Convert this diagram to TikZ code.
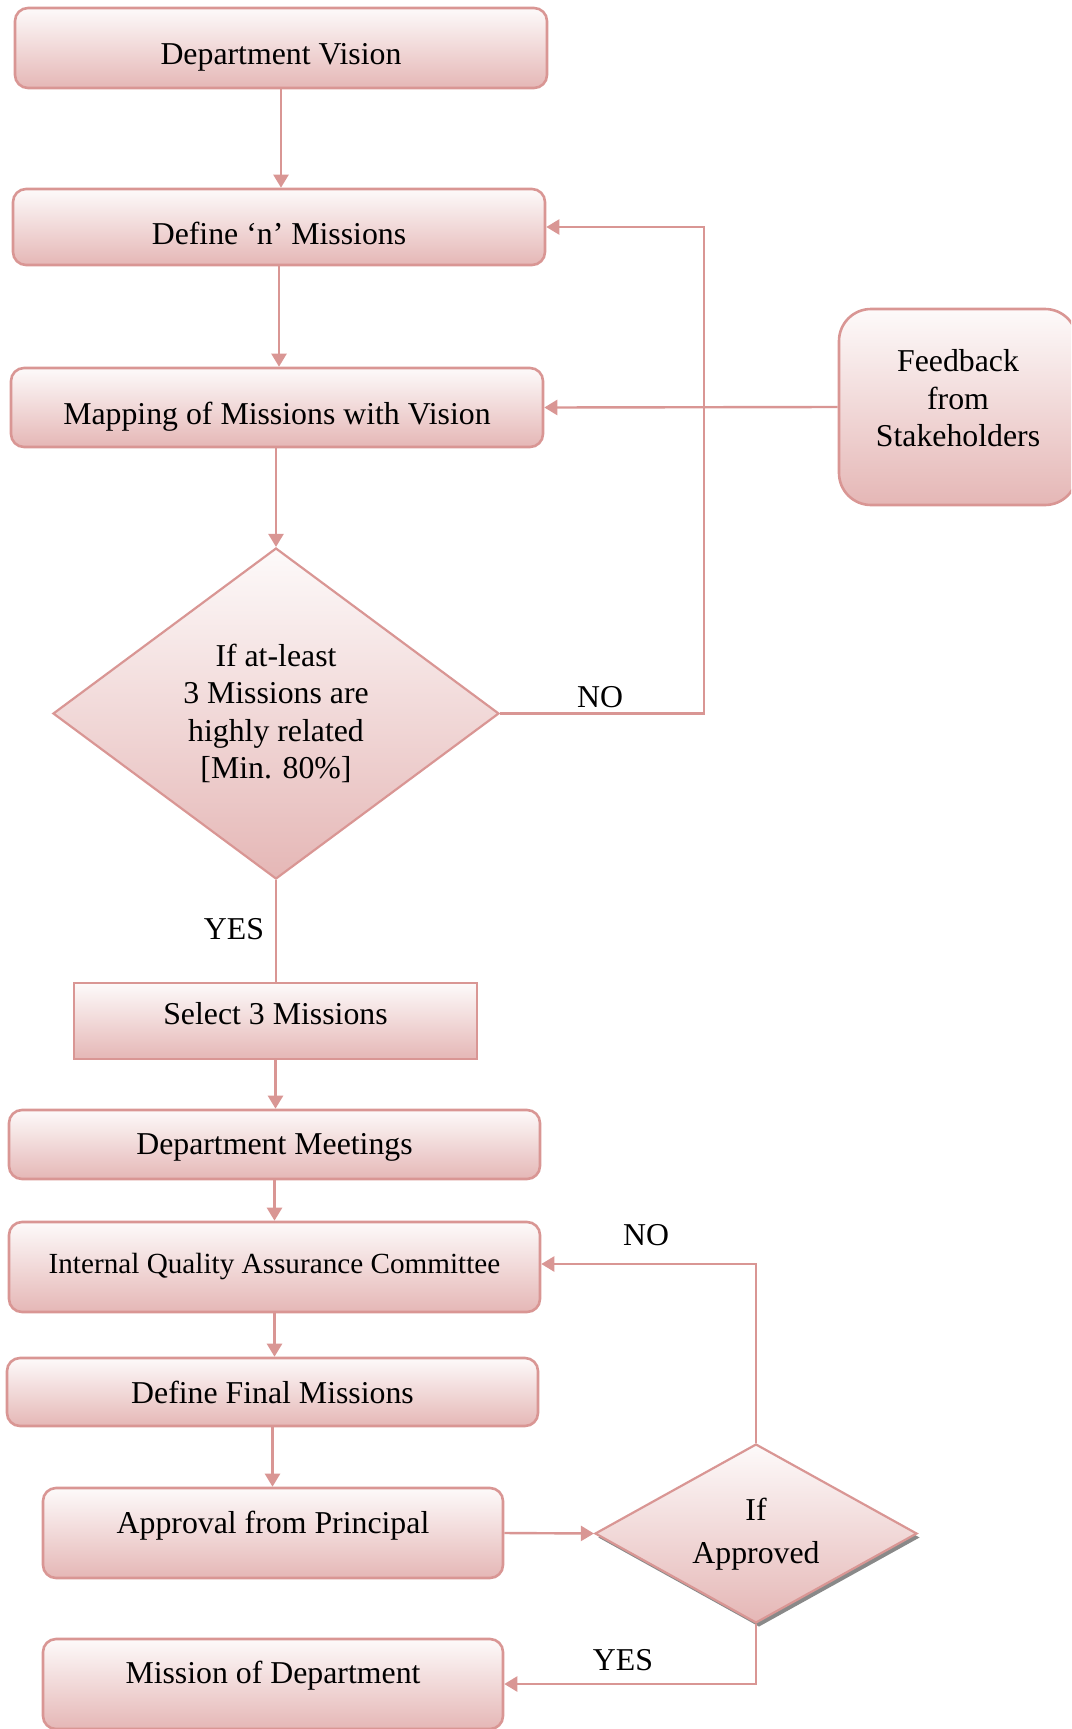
\documentclass[tikz,border=0pt]{standalone}
\usepackage{fontspec}
\setmainfont{Liberation Serif}
\usetikzlibrary{arrows.meta,shapes.geometric,shadows}
\definecolor{bd}{HTML}{D99694}
\definecolor{ftop}{HTML}{FDFAFA}
\definecolor{fbot}{HTML}{E5B7B6}
\newcommand{\shiftup}[2]{\raisebox{#1}[\height][\depth]{#2}}
\begin{document}
\begin{tikzpicture}[x=0.5pt,y=-0.5pt,
  txt/.style={font=\fontsize{15.9}{18.8}\selectfont},
  box/.style={txt, draw=bd, line width=1.3pt, rounded corners=6.5pt, top color=ftop, bottom color=fbot, inner sep=0pt, align=center},
  sqbox/.style={box, rounded corners=0pt},
  dia/.style={txt, diamond, draw=bd, line width=1.1pt, top color=ftop, bottom color=fbot, inner sep=0pt, align=center},
  conn/.style={draw=bd, line width=1.2pt},
  arr/.style={conn, -{Triangle[length=6.5pt,width=7.5pt]}},
  lbl/.style={txt, inner sep=0pt}
]
\path[use as bounding box, clip] (0,0) rectangle (1071,1729);

\node[box, minimum width=266pt, minimum height=40pt] (dv) at (281,48) {\shiftup{-4.5pt}{Department Vision}};
\node[box, minimum width=266pt, minimum height=38pt] (def) at (279,227) {\shiftup{-3.3pt}{Define ‘n’ Missions}};
\node[box, minimum width=266pt, minimum height=39.5pt] (map) at (277,407.5) {\shiftup{-4.4pt}{Mapping of Missions with Vision}};
\node[box, rounded corners=16pt, minimum width=119pt, minimum height=98pt] (fb) at (958,407)
  {\shiftup{2.75pt}{\begin{tabular}{@{}c@{}}Feedback\\from\\Stakeholders\end{tabular}}};
\node[dia, aspect=1.35, minimum width=223pt, minimum height=165.5pt] (d1) at (276,713.5)
  {If at-least\\3 Missions are\\highly related\\{}[Min. 80\%]};
\node[sqbox, minimum width=201.5pt, minimum height=38pt] (sel) at (275.5,1021)
  {\shiftup{3.5pt}{Select 3 Missions}};
\node[box, minimum width=265.5pt, minimum height=34.5pt] (dm) at (274.5,1144.5) {\shiftup{-1.6pt}{Department Meetings}};
\node[box, minimum width=265.5pt, minimum height=45pt, font=\fontsize{14.6}{17}\selectfont] (iqac) at (274.5,1267)
  {Internal Quality Assurance Committee};
\node[box, minimum width=265.5pt, minimum height=34pt] (dfm) at (272.5,1392) {Define Final Missions};
\node[box, minimum width=230pt, minimum height=45pt] (appr) at (273,1533)
  {\shiftup{3.9pt}{Approval from Principal}};
\node[dia, aspect=1.8, minimum width=161pt, minimum height=89.5pt,
  drop shadow={shadow xshift=1.5pt, shadow yshift=-2pt, fill=gray!85!black, opacity=0.8}] (d2) at (756,1533.5)
  {\shiftup{-0.7pt}{\begin{tabular}{@{}c@{}}If\\[2.7pt]Approved\end{tabular}}};
\node[box, minimum width=230pt, minimum height=45pt] (miss) at (273,1684)
  {\shiftup{4.4pt}{Mission of Department}};

\coordinate (lx) at (704,0);

\draw[arr] (dv.south) -- (dv.south |- def.north);
\draw[arr] (def.south) -- (def.south |- map.north);
\draw[arr] (d1.north |- map.south) -- (d1.north);
\draw[arr] (fb.west) -- (map.east);
\draw[arr] (d1.east) -- (d1.east -| lx) |- (def.east);
\draw[conn] (d1.south) -- (d1.south |- sel.north);
\draw[arr] (sel.south) -- (sel.south |- dm.north);
\draw[arr] (dm.south) -- (dm.south |- iqac.north);
\draw[arr] (iqac.south) -- (iqac.south |- dfm.north);
\draw[arr] (dfm.south) -- (dfm.south |- appr.north);
\draw[arr] (appr.east) -- (d2.west);
\draw[arr] (d2.north) |- ([yshift=1.5pt]iqac.east);
\draw[arr] (d2.south) |- (miss.east);

\node[lbl] (no1) at (600,697) {NO};
\node[lbl] (yes1) at (234,929) {YES};
\node[lbl] (no2) at (646,1235) {NO};
\node[lbl] (yes2) at (623,1660) {YES};
\end{tikzpicture}
\end{document}
